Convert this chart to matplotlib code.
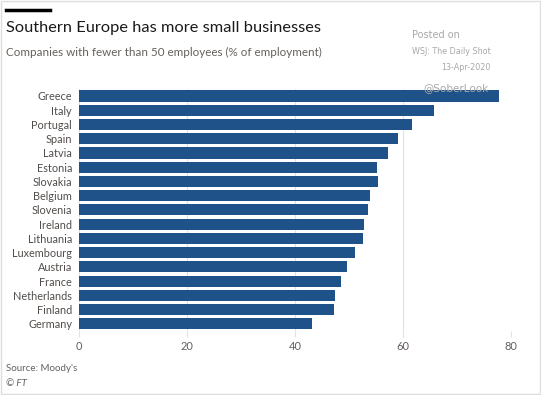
import matplotlib.pyplot as plt

# data (% of employment in firms with < 50 employees)
countries = ['Greece', 'Italy', 'Portugal', 'Spain', 'Latvia', 'Estonia',
             'Slovakia', 'Belgium', 'Slovenia', 'Ireland', 'Lithuania',
             'Luxembourg', 'Austria', 'France', 'Netherlands', 'Finland',
             'Germany']
values = [77.8, 65.7, 61.6, 59.1, 57.2, 55.2, 55.3, 53.9, 53.6, 52.8, 52.6,
          51.2, 49.7, 48.5, 47.5, 47.2, 43.2]
xticks = [0, 20, 40, 60, 80]

bar_color = '#1e5289'
text_grey = '#66605c'

plt.rcParams['font.family'] = ['Lato', 'DejaVu Sans']

fig = plt.figure(figsize=(5.41, 3.95), dpi=100)
ax = fig.add_axes([0.146, 0.162, 0.7985, 0.613])

ax.barh(range(len(countries)), values, height=0.78, color=bar_color, zorder=2)
ax.set_ylim(len(countries) - 0.5, -0.5)
ax.set_xlim(0, 80)
ax.set_yticks(range(len(countries)))
ax.set_yticklabels(countries, fontsize=7.8, color='#524d4a')
ax.set_xticks(xticks)
ax.set_xticklabels([str(t) for t in xticks], fontsize=8, color=text_grey)
ax.tick_params(axis='y', length=0, pad=5)
ax.tick_params(axis='x', length=4, color='#e6e0dc', pad=3)
ax.grid(axis='x', color='#e6e0dc', linewidth=0.8, zorder=0)
for s in ax.spines.values():
    s.set_visible(False)

# header
fig.add_artist(plt.Line2D([0.011, 0.092], [0.975, 0.975], color='black',
                          linewidth=2.5, transform=fig.transFigure))
fig.text(0.011, 0.929, 'Southern Europe has more small businesses',
         fontsize=11.8, color='#1a1a1a', va='center')
fig.text(0.011, 0.868, 'Companies with fewer than 50 employees (% of employment)',
         fontsize=8.4, color=text_grey, va='center')

# watermark
fig.text(0.762, 0.911, 'Posted on', fontsize=7, color='#a8a8a8', va='center',
         family='DejaVu Sans')
fig.text(0.762, 0.869, 'WSJ: The Daily Shot', fontsize=5.8, color='#a8a8a8',
         va='center', family='DejaVu Sans')
fig.text(0.906, 0.83, '13-Apr-2020', fontsize=5.8, color='#a8a8a8', va='center',
         ha='right', family='DejaVu Sans')
fig.text(0.782, 0.778, '@SoberLook', fontsize=7.5, color='#a8a8a8', va='center',
         family='DejaVu Sans')

# footer
fig.text(0.011, 0.066, "Source: Moody's", fontsize=7, color=text_grey,
         va='center')
fig.text(0.011, 0.03, '© FT', fontsize=7, color=text_grey, va='center',
         style='italic')

fig.patches.append(plt.Rectangle((0.002, 0.003), 0.996, 0.994, fill=False,
                                 edgecolor='#dddddd', linewidth=1,
                                 transform=fig.transFigure))

fig.savefig('out.png', dpi=100)
